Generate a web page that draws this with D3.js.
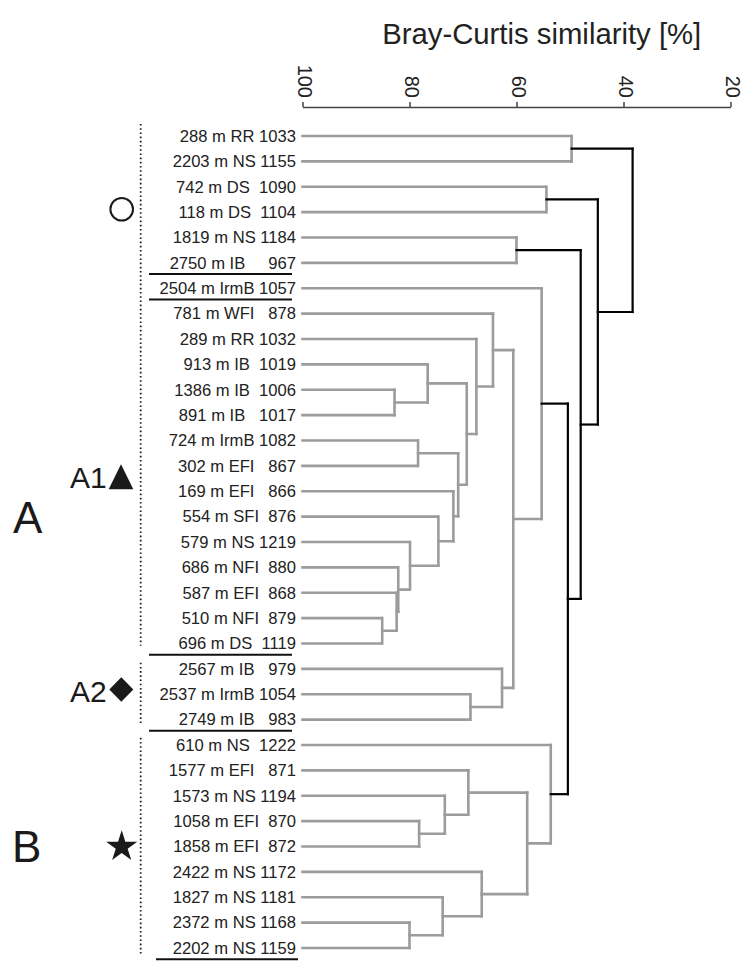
<!DOCTYPE html>
<html><head><meta charset="utf-8">
<script src="https://cdn.jsdelivr.net/npm/d3@7"></script>
<style>
html,body{margin:0;padding:0;background:#fff;}
svg{display:block;font-family:"Liberation Sans",Arial,sans-serif;}
.leaf{white-space:pre;}
</style></head><body>
<svg id="chart" width="756" height="977"></svg>
<script>
// ---------- data ----------
const leafLabels = [
  "288 m RR 1033", "2203 m NS 1155", "742 m DS  1090", "118 m DS  1104",
  "1819 m NS 1184", "2750 m IB     967", "2504 m IrmB 1057", "781 m WFI   878",
  "289 m RR 1032", "913 m IB  1019", "1386 m IB  1006", "891 m IB   1017",
  "724 m IrmB 1082", "302 m EFI   867", "169 m EFI   866", "554 m SFI  876",
  "579 m NS 1219", "686 m NFI  880", "587 m EFI  868", "510 m NFI  879",
  "696 m DS  1119", "2567 m IB   979", "2537 m IrmB 1054", "2749 m IB   983",
  "610 m NS  1222", "1577 m EFI   871", "1573 m NS 1194", "1058 m EFI  870",
  "1858 m EFI  872", "2422 m NS 1172", "1827 m NS 1181", "2372 m NS 1168",
  "2202 m NS 1159"
];
// merge table (R hclust convention: -k = leaf k, +k = merge k)
const mergeLeft  = [-20,-11,-19,-18,-32,-17,-13,-28,-10,-16,-31,-27,-15,7,9,-26,-23,-9,-30,-8,-22,20,-5,16,-7,-3,-25,25,-1,23,26,29];
const mergeRight = [-21,-12,1,3,-33,4,-14,-29,2,6,5,8,10,13,14,12,-24,15,11,18,17,21,-6,19,22,-4,24,27,-2,28,30,31];
const mergeSimilarity = [85.1,82.8,82.4,82.1,80.0,79.9,78.4,78.2,76.6,74.6,73.8,73.4,71.8,70.9,69.3,69.0,68.6,67.5,66.5,64.4,62.7,60.6,60.0,58.0,55.3,54.4,53.6,50.4,49.7,48.0,44.8,38.3];
const mergeSignificant = [0,0,0,0,0,0,0,0,0,0,0,0,0,0,0,0,0,0,0,0,0,0,0,0,0,0,0,1,0,1,1,1];
const axisTicks = [100, 80, 60, 40, 20];
const separatorsAfter = [5, 6, 20, 23, 32];
const axisTitle = "Bray-Curtis similarity [%]";

// ---------- scales ----------
const svg = d3.select("#chart");
const x = d3.scaleLinear().domain([100, 20]).range([302.5, 730.5]);
const y = d3.scalePoint().domain(d3.range(leafLabels.length)).range([136, 948]);
const step = y.step();

function build(ref) {
  if (ref < 0) return { leaf: -ref - 1, sim: 100 };
  const k = ref - 1;
  return { merge: ref, sim: mergeSimilarity[k], sig: mergeSignificant[k],
           children: [build(mergeLeft[k]), build(mergeRight[k])] };
}
const root = d3.hierarchy(build(mergeLeft.length));
root.eachAfter(n => {
  n.py = n.children ? d3.mean(n.children, c => c.py) : y(n.data.leaf);
  n.px = x(n.data.sim);
});

// ---------- title & axis ----------
svg.append("text").attr("x", 541.7).attr("y", 43.5).attr("text-anchor", "middle")
  .attr("font-size", 29.3).attr("fill", "#222").text(axisTitle);

const axisG = svg.append("g").attr("transform", "translate(0,107)")
  .call(d3.axisTop(x).tickValues(axisTicks).tickSize(5).tickSizeOuter(0).tickPadding(9));
axisG.select(".domain").attr("stroke", "#444").attr("stroke-width", 1.5);
axisG.selectAll(".tick line").attr("stroke", "#444").attr("stroke-width", 1.5);
axisG.selectAll(".tick text")
  .attr("transform", "rotate(90)").attr("x", -9).attr("y", 0).attr("dy", "0.25em")
  .attr("text-anchor", "end").attr("font-size", 20).attr("fill", "#222")
  .attr("font-family", "Liberation Sans, Arial, sans-serif");

// ---------- dendrogram ----------
const segs = [];
root.descendants().filter(n => n.children).forEach(n => {
  const col = n.data.sig ? "black" : "gray";
  segs.push({ x1: n.px, x2: n.px, y1: n.children[0].py, y2: n.children[1].py, c: col });
  n.children.forEach(c => segs.push({ x1: c.px, x2: n.px, y1: c.py, y2: c.py, c: col }));
});
const linkG = svg.append("g").attr("fill", "none").attr("stroke-linecap", "square");
linkG.selectAll("line.g").data(segs.filter(s => s.c === "gray")).join("line")
  .attr("x1", d => d.x1).attr("x2", d => d.x2).attr("y1", d => d.y1).attr("y2", d => d.y2)
  .attr("stroke", "#9c9c9c").attr("stroke-width", 2.6).attr("stroke-dasharray", "3,1");
linkG.selectAll("line.b").data(segs.filter(s => s.c === "black")).join("line")
  .attr("x1", d => d.x1).attr("x2", d => d.x2).attr("y1", d => d.y1).attr("y2", d => d.y2)
  .attr("stroke", "#000").attr("stroke-width", 2.2);

// ---------- leaf labels ----------
svg.append("g").selectAll("text").data(leafLabels).join("text")
  .attr("class", "leaf")
  .attr("x", 296).attr("y", (d, i) => y(i)).attr("dy", "0.35em")
  .attr("text-anchor", "end").attr("font-size", 16.6).attr("fill", "#222")
  .text(d => d);

// separators
const sepY = i => y(i) + step / 2 - 1.5;
svg.append("g").selectAll("line").data(separatorsAfter).join("line")
  .attr("x1", (d, i) => i === separatorsAfter.length - 1 ? 156 : 149)
  .attr("x2", (d, i) => i === separatorsAfter.length - 1 ? 298 : 292)
  .attr("y1", sepY).attr("y2", sepY)
  .attr("stroke", "#111").attr("stroke-width", 2);

// dotted vertical guide
const dotX = 140.7;
const dotSegs = [
  [y(0) - 12, sepY(20) - 9],
  [sepY(20) + 8, sepY(23) - 6],
  [sepY(23) + 7, y(leafLabels.length - 1) + 7]
];
svg.append("g").selectAll("line").data(dotSegs).join("line")
  .attr("x1", dotX).attr("x2", dotX).attr("y1", d => d[0]).attr("y2", d => d[1])
  .attr("stroke", "#222").attr("stroke-width", 1.8).attr("stroke-dasharray", "1.6,2.6");

// ---------- group markers ----------
const g = svg.append("g").attr("fill", "#1a1a1a");
g.append("circle").attr("cx", 121.7).attr("cy", 209.3).attr("r", 11.3)
  .attr("fill", "none").attr("stroke", "#1a1a1a").attr("stroke-width", 2);
g.append("text").attr("x", 70).attr("y", 487.7).attr("font-size", 30).text("A1");
g.append("path").attr("d", "M108.7,489.3L133.3,489.3L121,464.3Z");
g.append("text").attr("x", 13).attr("y", 532.7).attr("font-size", 44).text("A");
g.append("text").attr("x", 70).attr("y", 701.7).attr("font-size", 30).text("A2");
g.append("path").attr("d", "M121.3,677.3L133.3,689.5L121.3,701.7L109.3,689.5Z");
g.append("text").attr("x", 12).attr("y", 861.7).attr("font-size", 44).text("B");
g.append("path").attr("transform", "translate(121.7,846.7)")
  .attr("d", d3.symbol(d3.symbolStar, 300)());
</script>
</body></html>
